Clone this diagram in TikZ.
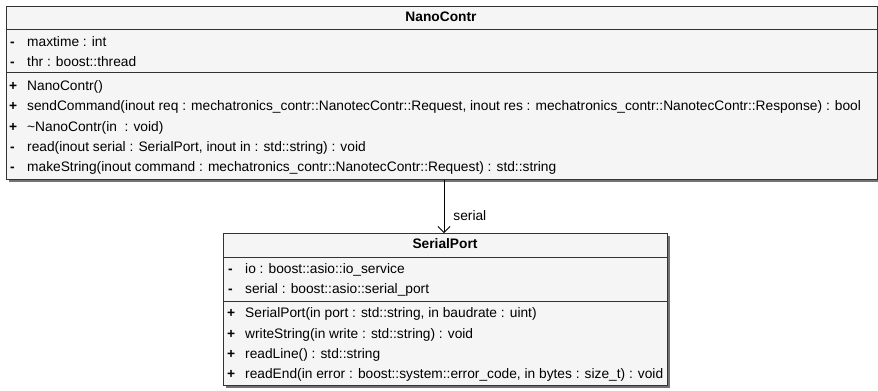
\documentclass[tikz,border=0pt]{standalone}
\usepackage{fontspec}
\setmainfont{Liberation Sans}
\usetikzlibrary{shadows,arrows.meta}
\begin{document}
\begin{tikzpicture}[x=1bp,y=-1bp,
  classbox/.style={draw=black!80, line width=0.8bp, fill=black!4, anchor=north west,
    inner sep=0pt, drop shadow={shadow xshift=3bp, shadow yshift=-3bp, fill=black!55, opacity=1}},
  txt/.style={anchor=west, inner sep=0pt, text height=10bp, text depth=3bp, yshift=-1.5bp,
    font=\fontsize{13.75bp}{16bp}\selectfont},
  vis/.style={txt, font=\fontsize{13.75bp}{16bp}\selectfont\bfseries},
  title/.style={inner sep=0pt, text height=10bp, text depth=3bp,
    font=\fontsize{13.75bp}{16bp}\selectfont\bfseries},
  sep/.style={draw=black!80, line width=0.8bp}]
\useasboundingbox (0,0) rectangle (878,390);

% class NanoContr
\node[classbox, minimum width=871bp, minimum height=173bp] (nano) at (6,6) {};
\node[title] (nanoT) at (441,18) {NanoContr};
\draw[sep] (6,29) -- (877,29);
\draw[sep] (6,72) -- (877,72);
\node[vis] (n1v) at (10,41) {-};  \node[txt] (n1) at (27,41) {maxtime : int};
\node[vis] (n2v) at (10,61) {-};  \node[txt] (n2) at (27,61) {thr : boost::thread};
\node[vis] (n3v) at (9,85) {+};   \node[txt] (n3) at (27,85) {NanoContr()};
\node[vis] (n4v) at (9,105) {+};  \node[txt] (n4) at (27,105) {sendCommand(inout req : mechatronics\_contr::NanotecContr::Request, inout res : mechatronics\_contr::NanotecContr::Response) : bool};
\node[vis] (n5v) at (9,126) {+};  \node[txt] (n5) at (27,126) {\textasciitilde NanoContr(in \ : void)};
\node[vis] (n6v) at (10,146) {-}; \node[txt] (n6) at (27,146) {read(inout serial : SerialPort, inout in : std::string) : void};
\node[vis] (n7v) at (10,166) {-}; \node[txt] (n7) at (27,166) {makeString(inout command : mechatronics\_contr::NanotecContr::Request) : std::string};

% class SerialPort
\node[classbox, minimum width=444bp, minimum height=152bp] (sp) at (223,233) {};
\node[title] (spT) at (445,245) {SerialPort};
\draw[sep] (223,257) -- (667,257);
\draw[sep] (223,301) -- (667,301);
\node[vis] (s1v) at (228,268) {-}; \node[txt] (s1) at (245,268) {io : boost::asio::io\_service};
\node[vis] (s2v) at (228,288) {-}; \node[txt] (s2) at (245,288) {serial : boost::asio::serial\_port};
\node[vis] (s3v) at (227,312) {+}; \node[txt] (s3) at (245,312) {SerialPort(in port : std::string, in baudrate : uint)};
\node[vis] (s4v) at (227,333) {+}; \node[txt] (s4) at (245,333) {writeString(in write : std::string) : void};
\node[vis] (s5v) at (227,353) {+}; \node[txt] (s5) at (245,353) {readLine() : std::string};
\node[vis] (s6v) at (227,373) {+}; \node[txt] (s6) at (245,373) {readEnd(in error : boost::system::error\_code, in bytes : size\_t) : void};

% association
\coordinate (aTop) at (nano.south -| 444,0);
\coordinate (aBot) at (sp.north -| 444,0);
\draw[line width=0.8bp, -{Straight Barb[length=6bp,width=12bp]}] (aTop) -- (aBot)
  node[txt, pos=0.68, right=9bp] (lbl) {serial};
\end{tikzpicture}
\end{document}
